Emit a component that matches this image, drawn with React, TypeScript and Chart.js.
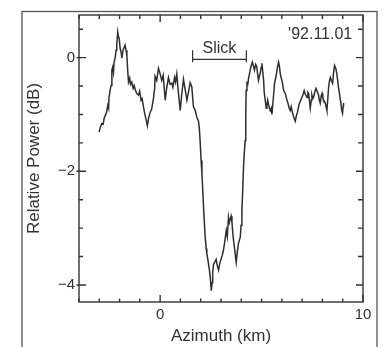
import { useEffect, useRef } from "react";
import { Chart, registerables } from "chart.js";

Chart.register(...registerables);

// Azimuth position (km) of each sample
const azimuthKm = [
  -3.01, -2.96, -2.88, -2.81, -2.76, -2.71, -2.64, -2.58, -2.54, -2.52, -2.47, -2.42, -2.38, -2.34, -2.30, -2.27,
  -2.22, -2.17, -2.14, -2.09, -2.06, -2.02, -1.97, -1.92, -1.89, -1.83, -1.73, -1.68, -1.64, -1.60, -1.56, -1.50,
  -1.46, -1.40, -1.33, -1.28, -1.23, -1.16, -1.07, -1.01, -0.94, -0.89, -0.81, -0.74, -0.69, -0.63, -0.57, -0.49,
  -0.42, -0.33, -0.27, -0.25, -0.17, -0.08, -0.02, 0.08, 0.15, 0.25, 0.32, 0.41, 0.49, 0.58, 0.63, 0.71,
  0.76, 0.82, 0.89, 0.99, 1.06, 1.15, 1.21, 1.32, 1.41, 1.48, 1.56, 1.64, 1.73, 1.81, 1.89, 1.93,
  1.97, 2.02, 2.06, 2.10, 2.14, 2.18, 2.22, 2.27, 2.30, 2.34, 2.38, 2.43, 2.47, 2.52, 2.56, 2.59,
  2.63, 2.69, 2.76, 2.82, 2.88, 2.94, 3.00, 3.06, 3.12, 3.18, 3.26, 3.31, 3.37, 3.41, 3.45, 3.50,
  3.54, 3.58, 3.62, 3.68, 3.75, 3.80, 3.86, 3.95, 3.99, 4.03, 4.07, 4.11, 4.14, 4.19, 4.22, 4.24,
  4.28, 4.32, 4.36, 4.40, 4.44, 4.49, 4.55, 4.60, 4.65, 4.71, 4.77, 4.81, 4.85, 4.89, 4.93, 4.98,
  5.02, 5.06, 5.10, 5.13, 5.18, 5.23, 5.26, 5.30, 5.34, 5.39, 5.43, 5.48, 5.51, 5.57, 5.64, 5.70,
  5.76, 5.80, 5.84, 5.88, 5.92, 5.97, 6.03, 6.09, 6.17, 6.23, 6.30, 6.36, 6.41, 6.46, 6.53, 6.59,
  6.66, 6.71, 6.77, 6.82, 6.87, 6.93, 6.99, 7.06, 7.10, 7.15, 7.24, 7.28, 7.32, 7.36, 7.40, 7.45,
  7.48, 7.52, 7.56, 7.62, 7.68, 7.74, 7.81, 7.85, 7.89, 7.94, 7.98, 8.02, 8.06, 8.10, 8.14, 8.19,
  8.22, 8.26, 8.30, 8.35, 8.39, 8.44, 8.50, 8.55, 8.60, 8.66, 8.71, 8.75, 8.79, 8.85, 8.91, 8.95,
  8.99, 9.02, 9.04,
];

// Relative power (dB) of each sample
const relativePowerDb = [
  -1.31, -1.24, -1.16, -1.17, -1.07, -1.02, -0.96, -0.84, -0.89, -0.70, -0.58, -0.49, -0.22, -0.17, -0.26, -0.08,
  -0.01, 0.13, 0.22, 0.45, 0.38, 0.34, 0.16, 0.09, -0.01, 0.13, 0.22, 0.13, 0.04, -0.22, -0.43, -0.36,
  -0.47, -0.43, -0.54, -0.49, -0.56, -0.63, -0.66, -0.59, -0.75, -0.72, -0.89, -1.02, -1.09, -1.20, -1.07, -0.96,
  -0.91, -0.72, -0.54, -0.33, -0.40, -0.19, -0.26, -0.40, -0.31, -0.75, -0.54, -0.35, -0.47, -0.45, -0.52, -0.35,
  -0.43, -0.29, -0.58, -0.93, -0.66, -0.38, -0.51, -0.75, -0.58, -0.44, -0.51, -0.86, -0.93, -1.05, -1.12, -1.24,
  -1.46, -1.81, -2.04, -2.33, -2.64, -2.90, -3.16, -3.36, -3.45, -3.53, -3.62, -3.74, -3.87, -4.10, -3.96, -3.78,
  -3.64, -3.60, -3.55, -3.67, -3.74, -3.62, -3.55, -3.48, -3.39, -3.25, -3.04, -3.15, -2.81, -2.90, -2.85, -2.79,
  -2.90, -3.08, -3.22, -3.39, -3.60, -3.43, -3.27, -3.16, -2.95, -2.69, -2.34, -1.93, -1.72, -1.46, -1.02, -0.58,
  -0.45, -0.47, -0.36, -0.29, -0.22, -0.14, -0.08, -0.15, -0.22, -0.12, -0.17, -0.31, -0.40, -0.33, -0.28, -0.17,
  -0.10, -0.26, -0.40, -0.61, -0.75, -0.89, -0.86, -0.75, -0.82, -0.89, -0.93, -0.89, -1.00, -0.75, -0.45, -0.35,
  -0.22, -0.14, -0.08, -0.15, -0.28, -0.36, -0.45, -0.58, -0.63, -0.72, -0.80, -0.89, -0.93, -0.86, -0.98, -1.05,
  -1.12, -1.03, -0.96, -0.87, -0.80, -0.75, -0.70, -0.63, -0.58, -0.64, -0.70, -0.61, -0.63, -0.75, -0.89, -0.75,
  -0.66, -0.72, -0.70, -0.61, -0.54, -0.59, -0.66, -0.75, -0.80, -0.68, -0.63, -0.70, -0.75, -0.77, -0.80, -0.88,
  -0.93, -0.75, -0.54, -0.40, -0.35, -0.40, -0.45, -0.26, -0.14, -0.19, -0.28, -0.40, -0.52, -0.66, -0.80, -0.93,
  -0.98, -0.86, -0.80,
];

const xTickLabels = [0, 10];
const yTickLabels = [-4, -2, 0];
const xMinorTicks = [-4, -3, -2, -1, 0, 1, 2, 3, 4, 5, 6, 7, 8, 9, 10];
const yMinorTicks = [-4, -3.5, -3, -2.5, -2, -1.5, -1, -0.5, 0, 0.5];
const slickRangeKm = [1.6, 4.25];
const slickLevelDb = -0.03;
const slickLabel = "Slick";
const dateLabel = "'92.11.01";
const dateAnchor = { x: 9.47, y: 0.335 };

const INK = "#333333";
const FONT = "'Liberation Sans', Arial, sans-serif";

const fmt = (v: number | string) => String(v).replace("-", "\u2212");

const decorPlugin = {
  id: "decor",
  beforeDraw(chart: any) {
    const { ctx, width, height } = chart;
    ctx.save();
    ctx.fillStyle = "#ffffff";
    ctx.fillRect(0, 0, width, height);
    // outer figure frame
    ctx.strokeStyle = "#555555";
    ctx.lineWidth = 1.3;
    ctx.strokeRect(22, 11.5, 355, height + 10);
    ctx.restore();
  },
  afterDraw(chart: any) {
    const { ctx, chartArea: a, scales } = chart;
    const xs = scales.x;
    const ys = scales.y;
    ctx.save();
    ctx.strokeStyle = INK;
    ctx.lineWidth = 1.4;
    ctx.strokeRect(a.left, a.top, a.right - a.left, a.bottom - a.top);
    ctx.beginPath();
    for (const v of xMinorTicks) {
      const px = xs.getPixelForValue(v);
      const major = xTickLabels.includes(v);
      const len = major ? 7 : 3.5;
      ctx.moveTo(px, a.bottom);
      ctx.lineTo(px, a.bottom - len);
      ctx.moveTo(px, a.top);
      ctx.lineTo(px, a.top + (major ? 7 : 4));
    }
    for (const v of yMinorTicks) {
      const py = ys.getPixelForValue(v);
      const major = yTickLabels.includes(v);
      ctx.moveTo(major ? a.left - 2.5 : a.left, py);
      ctx.lineTo(a.left + (major ? 7 : 4), py);
      ctx.moveTo(a.right, py);
      ctx.lineTo(a.right - (major ? 7 : 5), py);
    }
    ctx.stroke();

    // slick bracket
    const x1 = xs.getPixelForValue(slickRangeKm[0]);
    const x2 = xs.getPixelForValue(slickRangeKm[1]);
    const yb = ys.getPixelForValue(slickLevelDb);
    ctx.lineWidth = 1.2;
    ctx.beginPath();
    ctx.moveTo(x1, yb);
    ctx.lineTo(x2, yb);
    ctx.moveTo(x1, yb - 9);
    ctx.lineTo(x1, yb + 3);
    ctx.moveTo(x2, yb - 9);
    ctx.lineTo(x2, yb + 3);
    ctx.stroke();

    ctx.fillStyle = INK;
    ctx.font = `16px ${FONT}`;
    ctx.textAlign = "center";
    ctx.textBaseline = "alphabetic";
    ctx.fillText(slickLabel, (x1 + x2) / 2, yb - 6);

    ctx.textAlign = "right";
    ctx.fillText(dateLabel, xs.getPixelForValue(dateAnchor.x), ys.getPixelForValue(dateAnchor.y));
    ctx.restore();
  },
};

export default function App() {
  const ref = useRef<HTMLCanvasElement | null>(null);

  useEffect(() => {
    if (!ref.current) return;
    const points = azimuthKm.map((x, i) => ({ x, y: relativePowerDb[i] }));
    const chart = new Chart(ref.current, {
      type: "line",
      data: {
        datasets: [
          {
            data: points,
            borderColor: "#2e2e2e",
            borderWidth: 1.5,
            pointRadius: 0,
            tension: 0,
            fill: false,
          },
        ],
      },
      options: {
        animation: false,
        responsive: false,
        maintainAspectRatio: false,
        layout: { padding: { top: 15, right: 26, left: 0, bottom: 0 } },
        plugins: { legend: { display: false }, tooltip: { enabled: false } },
        scales: {
          x: {
            type: "linear",
            min: -4,
            max: 10,
            afterBuildTicks: (s: any) => {
              s.ticks = xTickLabels.map((v) => ({ value: v }));
            },
            afterFit: (s: any) => {
              s.height = 45;
            },
            grid: { display: false, drawTicks: false },
            border: { display: false },
            ticks: {
              autoSkip: false,
              maxRotation: 0,
              padding: 4,
              color: INK,
              font: { family: FONT, size: 15 },
              callback: (v: any) => fmt(v),
            },
            title: {
              display: true,
              text: "Azimuth (km)",
              color: INK,
              font: { family: FONT, size: 17 },
              padding: { top: 0, bottom: 0 },
            },
          },
          y: {
            type: "linear",
            min: -4.3,
            max: 0.75,
            afterBuildTicks: (s: any) => {
              s.ticks = yTickLabels.map((v) => ({ value: v }));
            },
            afterFit: (s: any) => {
              s.width = 79;
            },
            grid: { display: false, drawTicks: false },
            border: { display: false },
            ticks: {
              padding: 4,
              color: INK,
              font: { family: FONT, size: 15 },
              callback: (v: any) => fmt(v),
            },
            title: {
              display: true,
              text: "Relative Power (dB)",
              color: INK,
              font: { family: FONT, size: 17 },
              padding: { top: 24, bottom: 0 },
            },
          },
        },
      },
      plugins: [decorPlugin],
    });
    return () => chart.destroy();
  }, []);

  return (
    <div style={{ position: "fixed", left: 0, top: 0, width: 389, height: 347, background: "#fff" }}>
      <canvas ref={ref} width={389} height={347} style={{ width: 389, height: 347, display: "block" }} />
    </div>
  );
}
